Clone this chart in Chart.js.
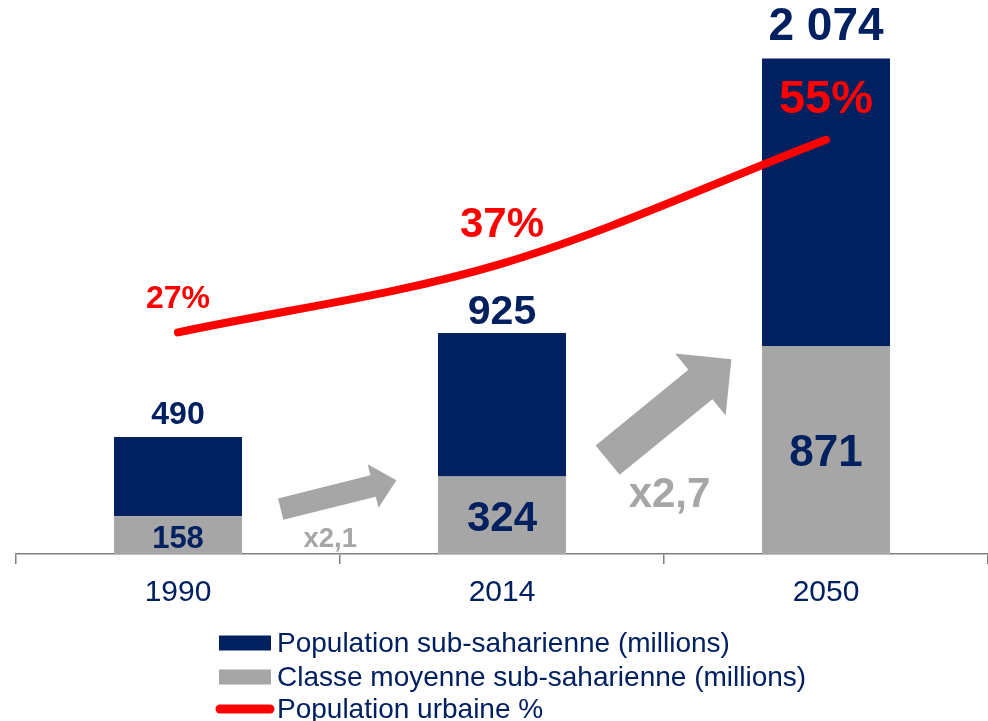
<!DOCTYPE html>
<html lang="fr">
<head>
<meta charset="utf-8">
<title>Afrique sub-saharienne</title>
<script src="https://cdn.jsdelivr.net/npm/chart.js@4.4.1/dist/chart.umd.min.js"></script>
<style>
    html, body { margin: 0; padding: 0; background: #fff; }
    #wrap { width: 988px; height: 721px; position: relative; }
</style>
</head>
<body>
<div id="wrap"><canvas id="chart"></canvas></div>
<script>
// Data
const years = ["1990", "2014", "2050"];
const totalPopulation = [490, 925, 2074];     // millions
const middleClass = [158, 324, 871];          // millions
const urbanShare = [27, 37, 55];              // %

const NAVY = "#002060";
const GRAY = "#A6A6A6";
const RED = "#FF0000";
const FONT = "Arial, 'Liberation Sans', sans-serif";

// label styling per category
const totalFontSize = [32, 41, 46];
const totalGap = [22, 20, 31];
const middleFontSize = [31, 42, 44];
const pctFontSize = [32, 42, 47];
const pctGap = [33, 38, 40];

// growth arrows between categories (fraction of a category step, value on bar axis)
const arrows = [
    { from: 0, tail: [0.317, 188], tip: [0.674, 309], shaft: 22, headW: 45, headL: 24, text: [0.47, 71], size: 27.5 },
    { from: 1, tail: [0.326, 393], tip: [0.708, 815], shaft: 38, headW: 80, headL: 40, text: [0.517, 255], size: 42 },
];

const navySegment = totalPopulation.map((t, i) => t - middleClass[i]);

function fmtThousands(n) {
    return String(n).replace(/\B(?=(\d{3})+(?!\d))/g, " ");
}

function growthText(i) {
    return "x" + (middleClass[i + 1] / middleClass[i]).toFixed(1).replace(".", ",");
}

const labelsPlugin = {
    id: "labels",
    afterDatasetsDraw(chart) {
        const ctx = chart.ctx;
        const x = chart.scales.x;
        const y = chart.scales.y;
        const y2 = chart.scales.y2;
        const step = x.getPixelForValue(1) - x.getPixelForValue(0);
        ctx.save();
        ctx.textAlign = "center";
        ctx.textBaseline = "middle";

        years.forEach((yr, i) => {
            const cx = x.getPixelForValue(i);
            // total on top of bar
            ctx.fillStyle = NAVY;
            ctx.font = "bold " + totalFontSize[i] + "px " + FONT;
            ctx.fillText(fmtThousands(totalPopulation[i]), cx, y.getPixelForValue(totalPopulation[i]) - totalGap[i]);
            // middle class inside gray segment
            ctx.font = "bold " + middleFontSize[i] + "px " + FONT;
            ctx.fillText(String(middleClass[i]), cx, y.getPixelForValue(middleClass[i] / 2) + 4);
            // urban share above line
            ctx.fillStyle = RED;
            ctx.font = "bold " + pctFontSize[i] + "px " + FONT;
            ctx.fillText(urbanShare[i] + "%", cx, y2.getPixelForValue(urbanShare[i]) - pctGap[i]);
        });

        // growth arrows
        arrows.forEach(a => {
            const base = x.getPixelForValue(a.from);
            const x0 = base + a.tail[0] * step, y0 = y.getPixelForValue(a.tail[1]);
            const x1 = base + a.tip[0] * step, y1 = y.getPixelForValue(a.tip[1]);
            const len = Math.hypot(x1 - x0, y1 - y0);
            const ux = (x1 - x0) / len, uy = (y1 - y0) / len;
            const nx = -uy, ny = ux;
            const bx = x1 - ux * a.headL, by = y1 - uy * a.headL;
            const s = a.shaft / 2, h = a.headW / 2;
            ctx.fillStyle = GRAY;
            ctx.beginPath();
            ctx.moveTo(x0 + nx * s, y0 + ny * s);
            ctx.lineTo(bx + nx * s, by + ny * s);
            ctx.lineTo(bx + nx * h, by + ny * h);
            ctx.lineTo(x1, y1);
            ctx.lineTo(bx - nx * h, by - ny * h);
            ctx.lineTo(bx - nx * s, by - ny * s);
            ctx.lineTo(x0 - nx * s, y0 - ny * s);
            ctx.closePath();
            ctx.fill();

            ctx.font = "bold " + a.size + "px " + FONT;
            ctx.fillText(growthText(a.from), base + a.text[0] * step, y.getPixelForValue(a.text[1]) + 2);
        });
        ctx.restore();
    },
};

// vertical legend, left-aligned under the axis
const legendPlugin = {
    id: "vlegend",
    afterDraw(chart) {
        const ctx = chart.ctx;
        const ds = chart.data.datasets;
        const items = [ds[1], ds[0], ds[2]];
        const rowY = [643, 677, 709];
        ctx.save();
        ctx.font = "28px " + FONT;
        ctx.textBaseline = "middle";
        ctx.textAlign = "left";
        items.forEach((d, i) => {
            if (d.type === "line") {
                ctx.strokeStyle = d.borderColor;
                ctx.lineWidth = 9;
                ctx.lineCap = "round";
                ctx.beginPath();
                ctx.moveTo(220, rowY[i]);
                ctx.lineTo(270, rowY[i]);
                ctx.stroke();
            } else {
                ctx.fillStyle = d.backgroundColor;
                ctx.fillRect(219, rowY[i] - 7.5, 52, 15);
            }
            ctx.fillStyle = NAVY;
            ctx.fillText(d.label, 277, rowY[i] + 1);
        });
        ctx.restore();
    },
};

const ctx = document.getElementById("chart").getContext("2d");
new Chart(ctx, {
    type: "bar",
    data: {
        labels: years,
        datasets: [
            {
                label: "Classe moyenne sub-saharienne (millions)",
                data: middleClass,
                backgroundColor: GRAY,
                order: 1,
            },
            {
                label: "Population sub-saharienne (millions)",
                data: navySegment,
                backgroundColor: NAVY,
                order: 1,
            },
            {
                type: "line",
                label: "Population urbaine %",
                data: urbanShare,
                yAxisID: "y2",
                borderColor: RED,
                borderWidth: 8,
                borderCapStyle: "round",
                pointRadius: 0,
                cubicInterpolationMode: "monotone",
                order: 0,
            },
        ],
    },
    options: {
        responsive: true,
        maintainAspectRatio: false,
        animation: false,
        layout: { padding: { left: 16, right: 0, top: 0, bottom: 99 } },
        datasets: { bar: { categoryPercentage: 1, barPercentage: 0.395 } },
        scales: {
            x: {
                stacked: true,
                grid: {
                    display: true,
                    offset: true,
                    drawOnChartArea: false,
                    tickLength: 10,
                    color: "#808080",
                    lineWidth: 1.5,
                },
                border: { display: true, color: "#808080", width: 1.5 },
                ticks: {
                    color: NAVY,
                    font: { family: FONT, size: 30 },
                    padding: 11,
                },
            },
            y: { stacked: true, display: false, min: 0, max: 2319 },
            y2: { display: false, min: -5.21, max: 75.31 },
        },
        plugins: {
            legend: { display: false },
            tooltip: { enabled: false },
        },
    },
    plugins: [labelsPlugin, legendPlugin],
});
</script>
</body>
</html>
